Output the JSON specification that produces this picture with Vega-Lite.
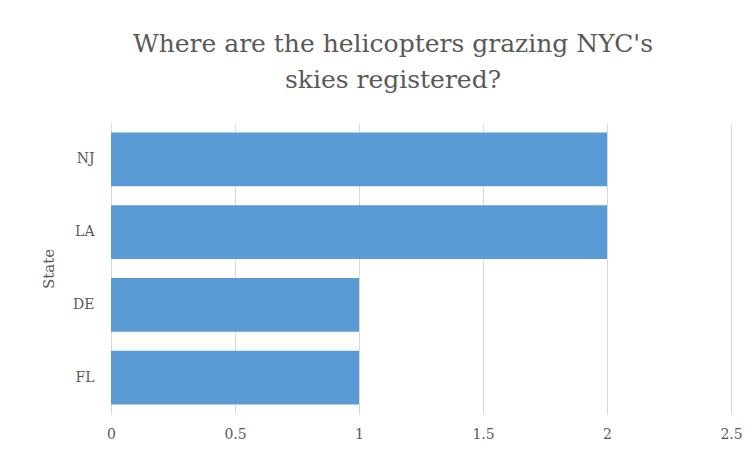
{
  "$schema": "https://vega.github.io/schema/vega-lite/v6.json",
  "autosize": "none",
  "width": 620,
  "height": 291,
  "padding": {"left": 111, "top": 123, "right": 23, "bottom": 42},
  "background": "white",
  "title": {
    "text": ["Where are the helicopters grazing NYC's", "skies registered?"],
    "font": "DejaVu Serif",
    "fontSize": 25,
    "fontWeight": "normal",
    "color": "#595959",
    "lineHeight": 36,
    "anchor": "middle",
    "dx": -28,
    "offset": 10,
    "baseline": "alphabetic"
  },
  "data": {
    "values": [
      {"State": "NJ", "Count": 2},
      {"State": "LA", "Count": 2},
      {"State": "DE", "Count": 1},
      {"State": "FL", "Count": 1}
    ]
  },
  "mark": {"type": "bar", "color": "#5B9BD5"},
  "encoding": {
    "y": {
      "field": "State",
      "type": "nominal",
      "sort": ["NJ", "LA", "DE", "FL"],
      "scale": {"paddingInner": 0.26, "paddingOuter": 0.13},
      "axis": {
        "title": "State",
        "titleFont": "DejaVu Serif",
        "titleFontSize": 15,
        "titleFontWeight": "normal",
        "titleColor": "#595959",
        "titlePadding": 16,
        "labelFont": "DejaVu Serif",
        "labelFontSize": 14,
        "labelColor": "#595959",
        "labelPadding": 17,
        "ticks": false,
        "domainColor": "#d9d9d9",
        "grid": false
      }
    },
    "x": {
      "field": "Count",
      "type": "quantitative",
      "scale": {"domain": [0, 2.5]},
      "axis": {
        "title": null,
        "values": [0, 0.5, 1, 1.5, 2, 2.5],
        "format": "~g",
        "labelFlush": false,
        "labelFont": "DejaVu Serif",
        "labelFontSize": 14,
        "labelColor": "#595959",
        "labelPadding": 13,
        "ticks": false,
        "domain": false,
        "grid": true,
        "gridColor": "#d9d9d9"
      }
    }
  },
  "config": {"view": {"stroke": null}}
}
